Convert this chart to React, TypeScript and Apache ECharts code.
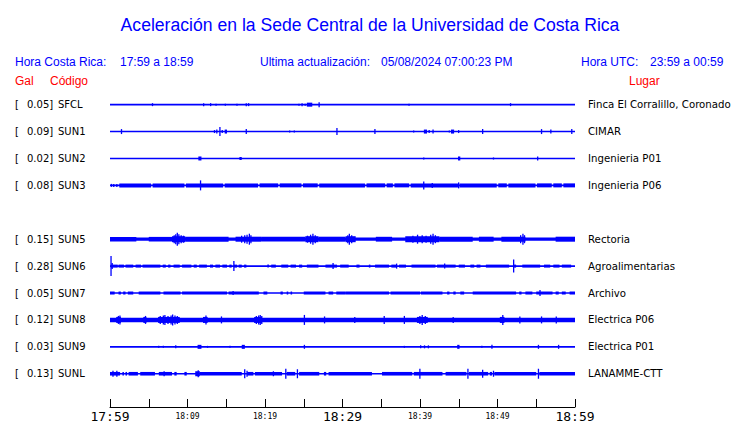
import React, { useEffect, useRef } from "react";
import * as echarts from "echarts";

// Station rows (top to bottom); empty row = station without data
const codes = ["SFCL", "SUN1", "SUN2", "SUN3", "", "SUN5", "SUN6", "SUN7", "SUN8", "SUN9", "SUNL"];
const galMax = ["0.05", "0.09", "0.02", "0.08", "", "0.15", "0.28", "0.05", "0.12", "0.03", "0.13"];
const places = [
  "Finca El Corralillo, Coronado",
  "CIMAR",
  "Ingenieria P01",
  "Ingenieria P06",
  "",
  "Rectoria",
  "Agroalimentarias",
  "Archivo",
  "Electrica P06",
  "Electrica P01",
  "LANAMME-CTT",
];

// time axis: minutes after 17:59
const tickLabels = ["17:59", "", "18:09", "", "18:19", "", "18:29", "", "18:39", "", "18:49", "", "18:59"];

// Envelope segments per station: [startMin, endMin, halfAmplitude]; spikes: [minute, halfAmplitude]
const segSFCL = [[25.4, 26.1, 2]];
const spkSFCL = [[5.4, 1.5], [12.0, 1.5], [12.9, 1.5], [13.6, 1], [14.8, 1], [16.3, 1], [17.5, 1.5], [17.8, 1.5], [24.3, 1], [24.7, 1.5], [25.1, 1], [26.9, 2.5], [38.5, 1], [51.6, 1.5]];

const segSUN1 = [[14.8, 15.1, 2], [40.5, 40.9, 2], [44.0, 44.4, 2]];
const spkSUN1 = [[1.4, 2.5], [13.4, 1.5], [13.7, 2], [14.1, 4.5], [14.4, 1.5], [17.5, 2.5], [23.1, 1], [23.7, 1], [29.2, 3.5], [34.1, 2.5], [39.1, 1], [41.1, 1.5], [41.6, 2], [43.7, 1], [44.9, 1.5], [48.0, 2.5], [55.6, 2.5], [56.8, 2], [59.5, 2.5]];

const segSUN2 = [[11.4, 11.8, 2], [16.7, 17.0, 1.5], [44.9, 45.2, 2]];
const spkSUN2 = [[40.4, 1], [49.4, 1], [55.1, 2]];

const segSUN3 = [[1.2, 5.3, 2], [5.5, 9.6, 2], [9.8, 14.6, 2], [14.8, 19.1, 2], [19.3, 21.7, 2], [21.9, 24.7, 2], [24.9, 26.8, 2], [27.0, 32.9, 2], [33.1, 35.5, 2], [35.7, 36.5, 2], [36.7, 38.6, 2], [38.8, 44.9, 2], [45.1, 49.9, 2], [50.1, 51.2, 2], [51.4, 54.9, 2], [55.1, 57.0, 2], [57.2, 58.3, 2], [58.5, 60, 2]];
const spkSUN3 = [[0.1, 1.5], [0.4, 1.5], [0.8, 1.5], [11.6, 5], [40.4, 4], [41.5, 2.5], [44.9, 3]];

const segSUN5 = [[0, 60, 1.6], [0, 3.4, 2.3], [5.0, 8.0, 2.3], [8.0, 9.7, 3], [9.7, 15.3, 2.5], [16.2, 19.5, 2.5], [19.5, 25.2, 2.4], [25.2, 26.9, 3], [26.9, 30.4, 2.5], [30.4, 31.7, 3], [34.3, 36.4, 2.4], [38.1, 42.5, 3], [42.5, 46.8, 2.5], [47.6, 49.5, 2.5], [50.5, 53.6, 2.5], [57.5, 60, 2.5]];
const spkSUN5 = [[8.2, 4], [8.4, 5], [8.6, 6.5], [8.8, 5], [9.1, 4], [9.4, 3.5], [16.9, 3.5], [17.3, 4], [17.6, 4.5], [17.9, 5.5], [18.1, 4], [25.4, 3.5], [25.8, 4.5], [26.1, 5.5], [26.4, 4], [30.6, 4], [30.8, 5.5], [31.1, 4], [39.0, 3.5], [39.6, 4.5], [40.2, 4], [40.7, 3.5], [41.3, 4.5], [41.6, 5.5], [41.9, 4], [52.9, 4], [53.2, 5.5], [53.4, 4]];

const segSUN6 = [[0.1, 1.0, 1.5], [1.1, 1.8, 1.5], [2.0, 3.0, 1.5], [3.3, 4.0, 1.5], [4.2, 6.5, 1.5], [6.8, 7.2, 1.5], [7.5, 7.8, 1.5], [8.2, 9.0, 1.5], [9.3, 10.5, 1.5], [10.8, 11.2, 1.5], [11.5, 12.5, 1.5], [12.9, 13.3, 1.5], [13.6, 14.2, 1.5], [14.5, 15.1, 1.5], [15.4, 15.7, 1.5], [16.0, 16.4, 1.5], [16.6, 17.0, 1.5], [17.3, 17.6, 1.5], [20.3, 20.5, 1.5], [20.8, 21.4, 1.5], [22.1, 23.0, 1.5], [23.3, 24.0, 1.5], [24.4, 24.8, 1.5], [25.4, 26.9, 1.5], [27.8, 29.3, 1.5], [29.7, 30.8, 1.5], [31.8, 32.2, 1.5], [33.4, 33.6, 1.5], [34.2, 36.0, 1.5], [36.3, 37.0, 1.5], [37.3, 38.2, 1.5], [38.9, 42.0, 1.5], [42.2, 44.6, 1.5], [45.0, 45.8, 1.5], [46.5, 47.0, 1.5], [47.3, 47.8, 1.5], [48.5, 51.5, 1.5], [52.0, 52.4, 1.5], [53.2, 55.5, 1.5], [56.0, 56.8, 1.5], [57.2, 58.0, 1.5], [58.3, 59.5, 1.5]];
const spkSUN6 = [[0.05, 10], [0.2, 3], [15.9, 5], [28.7, 3], [36.9, 2.5], [43.1, 2.5], [52.0, 6.5]];

const segSUN7 = [[0, 0.6, 1.5], [1.1, 1.4, 1.5], [1.7, 2.0, 1.5], [2.3, 3.0, 1.5], [3.7, 6.5, 1.5], [6.9, 9.1, 1.5], [9.3, 15.1, 1.5], [15.3, 19.2, 1.5], [19.8, 20.3, 1.5], [22.0, 22.3, 1.5], [22.8, 23.0, 1.5], [23.3, 23.5, 1.5], [25.0, 27.8, 1.5], [28.2, 28.8, 1.5], [29.2, 30.4, 1.5], [30.4, 36.0, 1.5], [36.2, 40.0, 1.5], [40.1, 42.9, 1.5], [43.5, 43.8, 1.5], [44.3, 44.6, 1.5], [45.2, 45.7, 1.5], [46.8, 52.4, 1.5], [52.8, 53.1, 1.5], [53.6, 54.5, 1.5], [55.0, 57.1, 1.5], [57.5, 57.9, 1.5], [58.3, 58.8, 1.5], [59.3, 60, 1.5]];
const spkSUN7 = [[15.8, 2], [55.4, 3]];

const segSUN8 = [[0, 60, 2.2], [0.8, 1.4, 3], [4.3, 4.7, 3], [6.2, 9.0, 3], [12.0, 12.6, 3], [18.6, 19.6, 3], [39.6, 41.0, 3], [50.3, 50.9, 3]];
const spkSUN8 = [[1.0, 4], [1.2, 4.5], [4.5, 4], [6.4, 4], [6.8, 4.5], [7.0, 5], [7.4, 4], [7.8, 4.5], [8.0, 5.5], [8.3, 4.5], [8.6, 4], [12.3, 4.5], [14.3, 3.5], [18.8, 4], [19.1, 4.5], [19.3, 5], [19.5, 4], [25.0, 5], [27.6, 3.5], [31.5, 3], [35.3, 4], [37.9, 4], [39.9, 4], [40.2, 5], [40.6, 4], [44.2, 3], [50.6, 5], [52.8, 3.5], [55.6, 3.5], [57.5, 3.5]];

const segSUN9 = [[11.3, 11.8, 2], [17.0, 17.4, 2], [44.8, 45.1, 2]];
const spkSUN9 = [[6.2, 1], [6.8, 1], [8.4, 1.5], [12.5, 1], [15.4, 1], [25.0, 2], [37.9, 1], [40.0, 1.5], [40.5, 1.5], [41.0, 1.5], [47.9, 1], [49.2, 2], [55.2, 2], [57.8, 2]];

const segSUNL = [[0, 1.3, 1.8], [1.6, 1.8, 1.8], [2.0, 2.2, 1.8], [2.4, 3.6, 1.8], [3.9, 5.8, 1.8], [6.3, 8.0, 1.8], [8.3, 8.6, 1.8], [9.6, 9.9, 1.8], [11.0, 11.6, 2.5], [11.6, 17.0, 1.8], [17.7, 18.5, 1.8], [18.7, 22.2, 1.8], [22.8, 23.9, 1.8], [24.4, 27.0, 1.8], [27.6, 27.9, 1.8], [28.2, 33.8, 1.8], [35.1, 39.0, 1.8], [39.2, 42.9, 1.8], [43.3, 46.0, 1.8], [46.3, 48.8, 1.8], [49.0, 49.3, 1.8], [49.6, 55.0, 1.8], [55.4, 60, 1.8]];
const spkSUNL = [[0.3, 3], [0.8, 3], [6.9, 2.5], [11.3, 3.5], [17.3, 4.5], [17.6, 3], [21.0, 2.5], [22.6, 5], [24.1, 4.5], [39.9, 5], [46.1, 5], [48.0, 4], [49.4, 3], [55.2, 5]];

const segments = [segSFCL, segSUN1, segSUN2, segSUN3, null, segSUN5, segSUN6, segSUN7, segSUN8, segSUN9, segSUNL];
const spikes = [spkSFCL, spkSUN1, spkSUN2, spkSUN3, null, spkSUN5, spkSUN6, spkSUN7, spkSUN8, spkSUN9, spkSUNL];

const BLUE = "#0000ff";
const HFONT = "12px 'Liberation Sans'";

export default function App() {
  const ref = useRef<HTMLDivElement>(null);
  useEffect(() => {
    if (!ref.current) return;
    const chart = echarts.init(ref.current, null, { renderer: "svg" });

    const data: number[][] = [];
    segments.forEach((segs, row) => {
      if (!segs) return;
      data.push([0, 60, 0.8, row]);
      segs.forEach((s) => data.push([s[0], s[1], s[2], row]));
      (spikes[row] || []).forEach((p) => data.push([p[0], p[0], p[1], row]));
    });

    const renderItem = (params: any, api: any) => {
      const row = api.value(3);
      const a = api.coord([api.value(0), row]);
      const b = api.coord([api.value(1), row]);
      const h = api.value(2);
      const w = Math.max(b[0] - a[0], 1.3);
      return {
        type: "rect",
        shape: { x: a[0], y: a[1] - h, width: w, height: 2 * h },
        style: { fill: BLUE },
      };
    };

    const option: any = {
      animation: false,
      backgroundColor: "#ffffff",
      title: {
        text: "Aceleración en la Sede Central de la Universidad de Costa Rica",
        left: "center",
        top: 11,
        textStyle: { color: BLUE, fontFamily: "Liberation Sans", fontSize: 17.6, fontWeight: "normal" },
      },
      graphic: [
        { type: "text", left: 15, top: 56, style: { text: "Hora Costa Rica:", fill: BLUE, font: HFONT } },
        { type: "text", left: 120, top: 56, style: { text: "17:59 a 18:59", fill: BLUE, font: HFONT } },
        { type: "text", left: 260, top: 56, style: { text: "Ultima actualización:", fill: BLUE, font: HFONT } },
        { type: "text", left: 381, top: 56, style: { text: "05/08/2024 07:00:23 PM", fill: BLUE, font: HFONT } },
        { type: "text", left: 581, top: 56, style: { text: "Hora UTC:", fill: BLUE, font: HFONT } },
        { type: "text", left: 650, top: 56, style: { text: "23:59 a 00:59", fill: BLUE, font: HFONT } },
        { type: "text", left: 15, top: 75, style: { text: "Gal", fill: "#ff0000", font: HFONT } },
        { type: "text", left: 50, top: 75, style: { text: "Código", fill: "#ff0000", font: HFONT } },
        { type: "text", left: 629, top: 75, style: { text: "Lugar", fill: "#ff0000", font: HFONT } },
      ],
      grid: { left: 110, right: 165, top: 91.2, height: 299, containLabel: false },
      xAxis: {
        type: "value",
        min: 0,
        max: 60,
        interval: 5,
        offset: 19.8,
        axisLine: { show: true, lineStyle: { color: "#000", width: 1 } },
        axisTick: { show: true, inside: true, length: 8, lineStyle: { color: "#000", width: 1 } },
        splitLine: { show: false },
        axisLabel: {
          margin: 3,
          formatter: (v: number) => {
            const i = Math.round(v / 5);
            const t = tickLabels[i] || "";
            if (!t) return "";
            return i % 6 === 0 ? `{big|${t}}` : `{small|${t}}`;
          },
          rich: {
            big: { fontFamily: "DejaVu Sans Mono", fontSize: 13, color: "#000" },
            small: { fontFamily: "DejaVu Sans Mono", fontSize: 8, color: "#000", padding: [2, 0, 0, 0] },
          },
        },
      },
      yAxis: [
        {
          type: "category",
          data: codes,
          inverse: true,
          position: "left",
          axisLine: { show: false },
          axisTick: { show: false },
          splitLine: { show: false },
          axisLabel: {
            align: "left",
            margin: 95,
            formatter: (_v: string, i: number) =>
              codes[i] ? `{a|[}{v|${galMax[i]}]}{c|${codes[i]}}` : "",
            rich: {
              a: { width: 12, fontFamily: "DejaVu Sans", fontSize: 10, color: "#000" },
              v: { width: 31, fontFamily: "DejaVu Sans", fontSize: 10, color: "#000" },
              c: { fontFamily: "DejaVu Sans", fontSize: 10, color: "#000" },
            },
          },
        },
        {
          type: "category",
          data: places,
          inverse: true,
          position: "right",
          axisLine: { show: false },
          axisTick: { show: false },
          splitLine: { show: false },
          axisLabel: {
            align: "left",
            margin: 13,
            fontFamily: "DejaVu Sans",
            fontSize: 10.2,
            color: "#000",
          },
        },
      ],
      series: [
        {
          type: "custom",
          yAxisIndex: 0,
          renderItem,
          clip: false,
          encode: { x: [0, 1], y: 3 },
          data,
        },
      ],
    };
    chart.setOption(option);
    return () => chart.dispose();
  }, []);
  return <div ref={ref} style={{ width: 740, height: 423, position: "absolute", left: 0, top: 0 }} />;
}
